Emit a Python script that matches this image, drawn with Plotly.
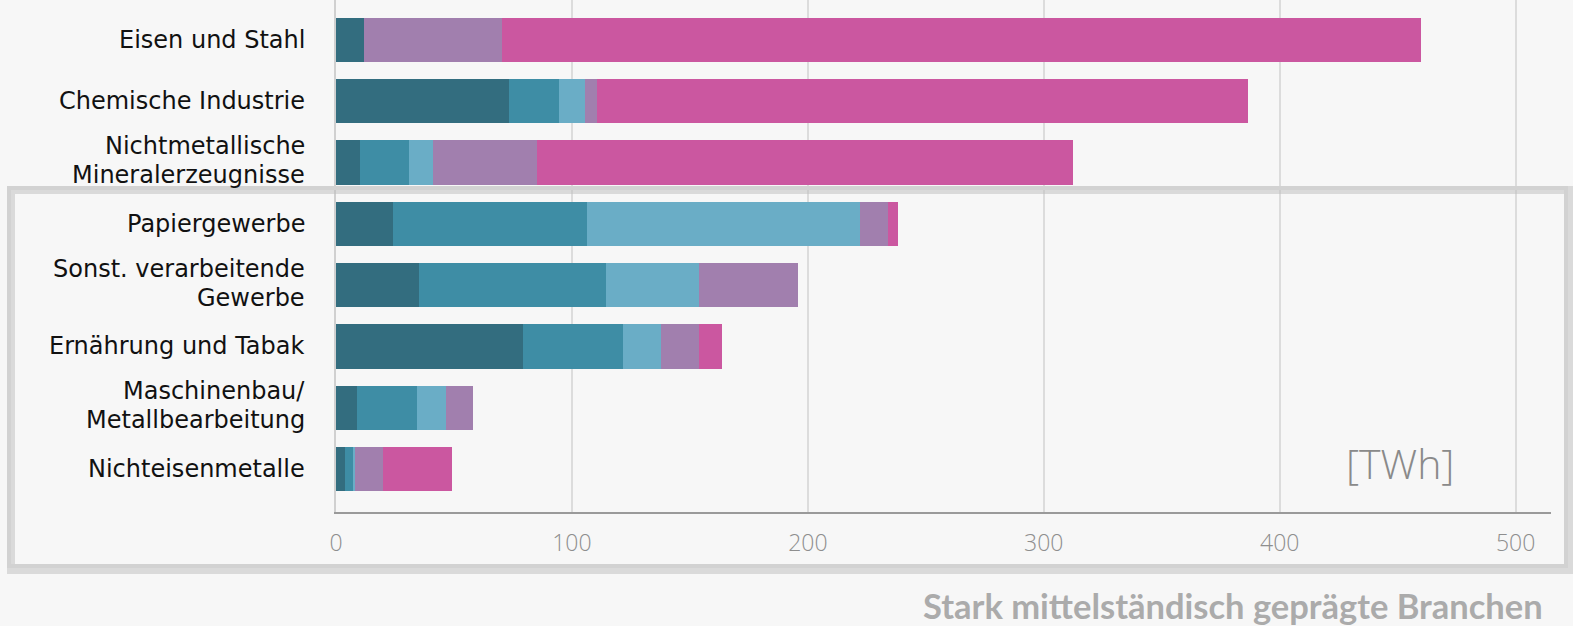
import plotly.graph_objects as go

categories = ["Eisen und Stahl", "Chemische Industrie", "Nichtmetallische<br>Mineralerzeugnisse",
              "Papiergewerbe", "Sonst. verarbeitende<br>Gewerbe", "Ernährung und Tabak",
              "Maschinenbau/<br>Metallbearbeitung", "Nichteisenmetalle"]
seg1 = [12.0, 73.2, 10.0, 24.0, 35.3, 79.2, 8.9, 4.0]
seg2 = [0.0, 21.2, 21.1, 82.4, 79.3, 42.4, 25.3, 3.2]
seg3 = [0.0, 11.0, 10.0, 115.7, 39.3, 16.2, 12.3, 0.9]
seg4 = [58.3, 5.2, 44.1, 11.7, 41.9, 15.9, 11.7, 11.9]
seg5 = [389.7, 275.8, 227.1, 4.2, 0.0, 10.0, 0.0, 29.3]
series = [seg1, seg2, seg3, seg4, seg5]
colors = ["#336D7F", "#3E8DA5", "#6AADC6", "#A17FAE", "#CB57A0"]
tick_vals = [0, 100, 200, 300, 400, 500]

fig = go.Figure()
for vals, col in zip(series, colors):
    fig.add_trace(go.Bar(y=categories, x=vals, orientation="h", marker=dict(color=col, line=dict(width=0)),
                         width=0.72, showlegend=False))

bg = "#F7F7F7"
fig.update_layout(
    barmode="stack",
    width=1573, height=626,
    margin=dict(l=336, r=22, t=0, b=114),
    paper_bgcolor=bg, plot_bgcolor=bg,
    font=dict(family="Open Sans", color="#111111"),
    xaxis=dict(range=[0, 515], tickvals=tick_vals, showgrid=True, gridcolor="#DCDCDC", gridwidth=2,
               zeroline=False, showline=True, linecolor="#9A9A9A", linewidth=1.5,
               tickfont=dict(family="Open Sans", size=23, color="#8E8E8E", weight=300),
               ticks="outside", ticklen=10, tickcolor="rgba(0,0,0,0)"),
    yaxis=dict(range=[7.7, -0.65], showgrid=False, zeroline=False, showline=True,
               linecolor="#D0D0D0", linewidth=2, showticklabels=False),
)

# category labels (tight line spacing, one text per line)
line_gap = 29
for cat in categories:
    lines = cat.split("<br>")
    n = len(lines)
    for i, ln in enumerate(lines):
        shift = ((n - 1) / 2 - i) * line_gap + (2 if n > 1 else 0)
        fig.add_annotation(text=ln, xref="paper", yref="y", x=0, y=cat, xshift=-29, yshift=shift,
                           xanchor="right", yanchor="middle", showarrow=False,
                           font=dict(family="DejaVu Sans", size=24, color="#111111"))

# highlight box (shadow + border)
fig.add_shape(type="rect", xref="paper", yref="paper", layer="above",
              x0=(11 - 336) / 1215, x1=(1569 - 336) / 1215,
              y0=(512 - 570) / 512, y1=(512 - 190) / 512,
              line=dict(color="rgba(190,190,190,0.5)", width=8))
fig.add_shape(type="rect", xref="paper", yref="paper", layer="above",
              x0=(9 - 336) / 1215, x1=(1566 - 336) / 1215,
              y0=(512 - 566) / 512, y1=(512 - 188) / 512,
              line=dict(color="#D2D2D2", width=4))

fig.add_annotation(text="[TWh]", xref="x", yref="paper", x=451, y=(512 - 463) / 512,
                   showarrow=False, xanchor="center", yanchor="middle",
                   font=dict(family="Open Sans", size=41, color="#8A8A8A", weight=300))
fig.add_annotation(text="<b>Stark mittelständisch geprägte Branchen</b>", xref="paper", yref="paper",
                   x=(1545 - 336) / 1215, y=(512 - 605) / 512, xanchor="right", yanchor="middle",
                   showarrow=False, font=dict(family="Lato", size=34.5, color="#ABABAB"))

fig.write_html("out.html")
